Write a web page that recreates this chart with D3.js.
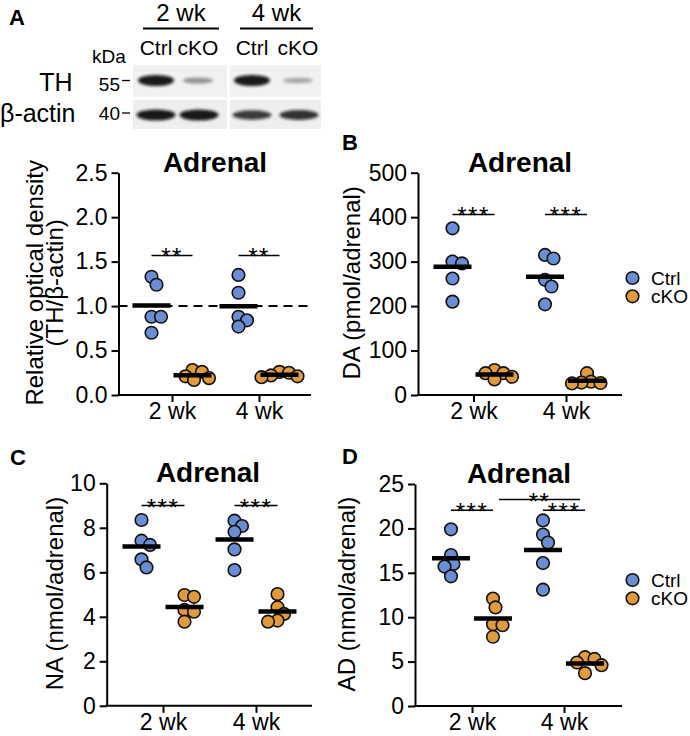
<!DOCTYPE html>
<html><head><meta charset="utf-8">
<script src="https://cdn.jsdelivr.net/npm/d3@7"></script>
<style>
body{margin:0;background:#fff}
svg{display:block}
text{font-family:"Liberation Sans",Arial,sans-serif;fill:#000}
</style>
</head><body>
<svg id="fig" width="690" height="736"></svg>
<script>
// ---------------- data ----------------
const weeks = ["2 wk", "4 wk"];
const genotypes = ["Ctrl", "cKO"];
const genoColors = ["#6a8ed3", "#e19b3c"];

// Panel A: relative optical density (TH/β-actin)
const odCtrl2 = [1.33, 1.24, 0.88, 0.88, 0.70];
const odCko2  = [0.26, 0.28, 0.17, 0.19, 0.21];
const odCtrl4 = [1.35, 1.15, 0.88, 0.84, 0.77];
const odCko4  = [0.25, 0.26, 0.22, 0.21, 0.20];
const odTicks = [0, 0.5, 1.0, 1.5, 2.0, 2.5];

// Panel B: DA (pmol/adrenal)
const daCtrl2 = [375, 300, 296, 262, 210];
const daCko2  = [49, 49, 35, 41, 56];
const daCtrl4 = [315, 307, 259, 244, 204];
const daCko4  = [28, 27, 49, 30, 26];
const daTicks = [0, 100, 200, 300, 400, 500];

// Panel C: NA (nmol/adrenal)
const naCtrl2 = [8.35, 7.42, 7.23, 6.58, 6.22];
const naCko2  = [4.98, 4.90, 4.31, 4.23, 3.78];
const naCtrl4 = [8.32, 8.08, 7.82, 7.03, 6.10];
const naCko4  = [5.02, 4.43, 4.13, 3.83, 3.78];
const naTicks = [0, 2, 4, 6, 8, 10];

// Panel D: AD (nmol/adrenal)
const adCtrl2 = [19.9, 17.0, 16.0, 15.7, 14.6];
const adCko2  = [12.1, 11.1, 9.2, 9.1, 7.8];
const adCtrl4 = [20.9, 19.3, 18.4, 16.1, 13.1];
const adCko4  = [5.5, 5.3, 4.9, 4.6, 3.7];
const adTicks = [0, 5, 10, 15, 20, 25];

// Blot lanes and relative band intensities
const blotLanes = ["Ctrl", "cKO", "Ctrl", "cKO"];
const thBand = [1.0, 0.32, 1.0, 0.22];
const actinBand = [1.0, 1.0, 0.8, 0.85];

// ---------------- drawing ----------------
const svg = d3.select("#fig");
const defs = svg.append("defs");
defs.append("filter").attr("id", "blur").attr("x", "-30%").attr("y", "-80%").attr("width", "160%").attr("height", "260%")
  .append("feGaussianBlur").attr("stdDeviation", 1.6);

function bold(sel) { return sel.attr("font-weight", "bold"); }

// ----- Panel A western blot -----
bold(svg.append("text").attr("x", 9).attr("y", 25).attr("font-size", 22).text("A"));
const blotPanels = [{week: "2 wk", x0: 133, x1: 227}, {week: "4 wk", x0: 230, x1: 321}];
const laneXs = [156, 198, 252, 298];
blotPanels.forEach((p, i) => {
  const cx = (p.x0 + p.x1) / 2;
  svg.append("text").attr("x", cx + 1).attr("y", 21).attr("font-size", 24).attr("text-anchor", "middle").text(p.week);
  svg.append("line").attr("x1", p.x0 + 10).attr("x2", p.x1 - 8).attr("y1", 28.5).attr("y2", 28.5).attr("stroke", "#000").attr("stroke-width", 2);
  svg.append("rect").attr("x", p.x0).attr("y", 65).attr("width", p.x1 - p.x0).attr("height", 32).attr("fill", "#f1f1f1");
  svg.append("rect").attr("x", p.x0).attr("y", 100).attr("width", p.x1 - p.x0).attr("height", 29).attr("fill", "#eeeeee");
});
blotLanes.forEach((lab, i) => {
  svg.append("text").attr("x", laneXs[i]).attr("y", 55).attr("font-size", 21).attr("text-anchor", "middle").text(lab);
  const th = thBand[i];
  svg.append("ellipse").attr("cx", laneXs[i]).attr("cy", 80.5).attr("rx", i % 2 ? 15 : 18).attr("ry", 2 + 3.5 * th)
    .attr("fill", "#111").attr("opacity", 0.15 + 0.8 * th).attr("filter", "url(#blur)");
  const ac = actinBand[i];
  svg.append("ellipse").attr("cx", laneXs[i] + (i % 2 ? 1 : 0)).attr("cy", 115).attr("rx", 19.5).attr("ry", 1.5 + 4 * ac)
    .attr("fill", "#111").attr("opacity", 0.2 + 0.75 * ac).attr("filter", "url(#blur)");
});
svg.append("text").attr("x", 109).attr("y", 63).attr("font-size", 19).attr("text-anchor", "middle").text("kDa");
svg.append("text").attr("x", 56).attr("y", 91).attr("font-size", 25).attr("text-anchor", "middle").text("TH");
svg.append("text").attr("x", 0).attr("y", 122).attr("font-size", 25).text("β-actin");
svg.append("text").attr("x", 120).attr("y", 91).attr("font-size", 19).attr("text-anchor", "end").text("55");
svg.append("text").attr("x", 120).attr("y", 120).attr("font-size", 19).attr("text-anchor", "end").text("40");
[80.5, 113].forEach(yy => svg.append("line").attr("x1", 122).attr("x2", 130).attr("y1", yy).attr("y2", yy).attr("stroke", "#000").attr("stroke-width", 1.3));

// ----- scatter panels -----
function swarm(values, y, minD) {
  const items = values.map(v => ({v, y: y(v)})).sort((a, b) => b.v - a.v);
  const placed = [];
  items.forEach(it => {
    for (let k = 0; k < 400; k++) {
      const cand = k === 0 ? 0 : (k % 2 ? 1 : -1) * Math.ceil(k / 2) * 0.5;
      const ok = placed.every(p => Math.hypot(p.dx - cand, p.y - it.y) >= minD);
      if (ok) { it.dx = cand; break; }
    }
    placed.push(it);
  });
  return placed;
}

function panel(cfg) {
  const g = svg.append("g");
  const y = d3.scaleLinear().domain([0, d3.max(cfg.ticks)]).range([cfg.bottom, cfg.top]);
  const x = d3.scalePoint().domain(weeks).range([cfg.c1, cfg.c2]);
  const off = {Ctrl: -cfg.dx, cKO: cfg.dx};
  const color = d3.scaleOrdinal().domain(genotypes).range(genoColors);

  bold(g.append("text").attr("x", cfg.labelX).attr("y", cfg.labelY).attr("font-size", 22).text(cfg.label));
  bold(g.append("text").attr("x", cfg.titleX).attr("y", cfg.top - 1).attr("font-size", 28).attr("text-anchor", "middle").text("Adrenal"));

  // y axis
  const ya = g.append("g").attr("transform", `translate(${cfg.left},0)`)
    .call(d3.axisLeft(y).tickValues(cfg.ticks).tickFormat(cfg.fmt).tickSize(7).tickPadding(4).tickSizeOuter(0));
  // x axis
  const xa = g.append("g").attr("transform", `translate(0,${cfg.bottom})`)
    .call(d3.axisBottom(x).tickSize(7).tickPadding(1).tickSizeOuter(0));
  xa.select(".domain").remove();
  g.append("line").attr("x1", cfg.left - 1).attr("x2", cfg.right).attr("y1", cfg.bottom).attr("y2", cfg.bottom)
    .attr("stroke", "#000").attr("stroke-width", 2);
  [ya, xa].forEach(a => {
    a.selectAll("path,line").attr("stroke", "#000").attr("stroke-width", 2);
    a.selectAll("text").attr("font-size", 23).attr("font-family", "Liberation Sans, Arial, sans-serif").attr("fill", "#000");
  });

  // y label
  cfg.ylab.forEach((t, i) => {
    g.append("text").attr("transform", `translate(${cfg.ylabX[i]},${(cfg.top + cfg.bottom) / 2 - 1}) rotate(-90)`)
      .attr("font-size", 24).attr("text-anchor", "middle").text(t);
  });

  if (cfg.refLine !== undefined) {
    g.append("line").attr("x1", cfg.left).attr("x2", cfg.right).attr("y1", y(cfg.refLine)).attr("y2", y(cfg.refLine))
      .attr("stroke", "#000").attr("stroke-width", 2).attr("stroke-dasharray", "9,6");
  }

  // points
  cfg.series.forEach(s => {
    const cx = x(s.week) + off[s.geno];
    const pts = swarm(s.values, y, 9.2);
    g.append("g").selectAll("circle").data(pts).join("circle")
      .attr("cx", d => cx + d.dx).attr("cy", d => d.y).attr("r", 6.3)
      .attr("fill", color(s.geno)).attr("stroke", "#111").attr("stroke-width", 1.6);
  });
  // mean bars
  cfg.series.forEach(s => {
    const cx = x(s.week) + off[s.geno];
    const m = d3.mean(s.values);
    g.append("line").attr("x1", cx - 19).attr("x2", cx + 19).attr("y1", y(m)).attr("y2", y(m))
      .attr("stroke", "#000").attr("stroke-width", 4.5);
  });

  // significance
  cfg.sig.forEach(s => {
    const x1 = x(s.w1) + off[s.g1] + (s.pad1 || 0), x2 = x(s.w2) + off[s.g2] + (s.pad2 || 0);
    g.append("line").attr("x1", x1).attr("x2", x2).attr("y1", y(s.y)).attr("y2", y(s.y)).attr("stroke", "#000").attr("stroke-width", 1.5);
    g.append("text").attr("x", (x1 + x2) / 2).attr("y", y(s.y) + 10).attr("font-size", 24).attr("letter-spacing", 1.5)
      .attr("text-anchor", "middle").text(s.label);
  });

  if (cfg.legendY !== undefined) {
    genotypes.forEach((gn, i) => {
      g.append("circle").attr("cx", 632.5).attr("cy", cfg.legendY + i * 18.3).attr("r", 6.3)
        .attr("fill", color(gn)).attr("stroke", "#111").attr("stroke-width", 1.6);
      g.append("text").attr("x", 651).attr("y", cfg.legendY + i * 18.3 + 6.5).attr("font-size", 19).text(gn);
    });
  }
}

const mk = (a, b, c, d) => [
  {week: "2 wk", geno: "Ctrl", values: a}, {week: "2 wk", geno: "cKO", values: b},
  {week: "4 wk", geno: "Ctrl", values: c}, {week: "4 wk", geno: "cKO", values: d}];

panel({label: "", labelX: 0, labelY: 0, titleX: 215, left: 118.5, right: 311, top: 172.7, bottom: 395, c1: 172, c2: 259, dx: 20.5,
  ticks: odTicks, fmt: d3.format(".1f"), ylab: ["Relative optical density", "(TH/β-actin)"], ylabX: [43, 63],
  refLine: 1.0, series: mk(odCtrl2, odCko2, odCtrl4, odCko4),
  sig: [{w1: "2 wk", g1: "Ctrl", w2: "2 wk", g2: "cKO", y: 1.57, label: "**"},
        {w1: "4 wk", g1: "Ctrl", w2: "4 wk", g2: "cKO", y: 1.57, label: "**"}]});

panel({label: "B", labelX: 342, labelY: 150, titleX: 520, left: 418, right: 622, top: 172.7, bottom: 395, c1: 473.5, c2: 566, dx: 21,
  ticks: daTicks, fmt: d3.format("d"), ylab: ["DA (pmol/adrenal)"], ylabX: [360],
  series: mk(daCtrl2, daCko2, daCtrl4, daCko4), legendY: 278,
  sig: [{w1: "2 wk", g1: "Ctrl", w2: "2 wk", g2: "cKO", y: 406, label: "***"},
        {w1: "4 wk", g1: "Ctrl", w2: "4 wk", g2: "cKO", y: 406, label: "***"}]});

panel({label: "C", labelX: 10, labelY: 465, titleX: 208, left: 106.7, right: 312, top: 483.3, bottom: 705.8, c1: 163, c2: 256, dx: 21.5,
  ticks: naTicks, fmt: d3.format("d"), ylab: ["NA (nmol/adrenal)"], ylabX: [63],
  series: mk(naCtrl2, naCko2, naCtrl4, naCko4),
  sig: [{w1: "2 wk", g1: "Ctrl", w2: "2 wk", g2: "cKO", y: 9.0, label: "***"},
        {w1: "4 wk", g1: "Ctrl", w2: "4 wk", g2: "cKO", y: 9.0, label: "***"}]});

panel({label: "D", labelX: 342, labelY: 464, titleX: 519, left: 415, right: 622, top: 484, bottom: 706, c1: 472, c2: 564, dx: 21,
  ticks: adTicks, fmt: d3.format("d"), ylab: ["AD (nmol/adrenal)"], ylabX: [355],
  series: mk(adCtrl2, adCko2, adCtrl4, adCko4), legendY: 580,
  sig: [{w1: "2 wk", g1: "Ctrl", w2: "2 wk", g2: "cKO", y: 22.05, label: "***"},
        {w1: "2 wk", g1: "cKO", w2: "4 wk", g2: "cKO", y: 23.25, label: "**", pad1: 6, pad2: -5},
        {w1: "4 wk", g1: "Ctrl", w2: "4 wk", g2: "cKO", y: 22.05, label: "***"}]});
</script>
</body></html>
